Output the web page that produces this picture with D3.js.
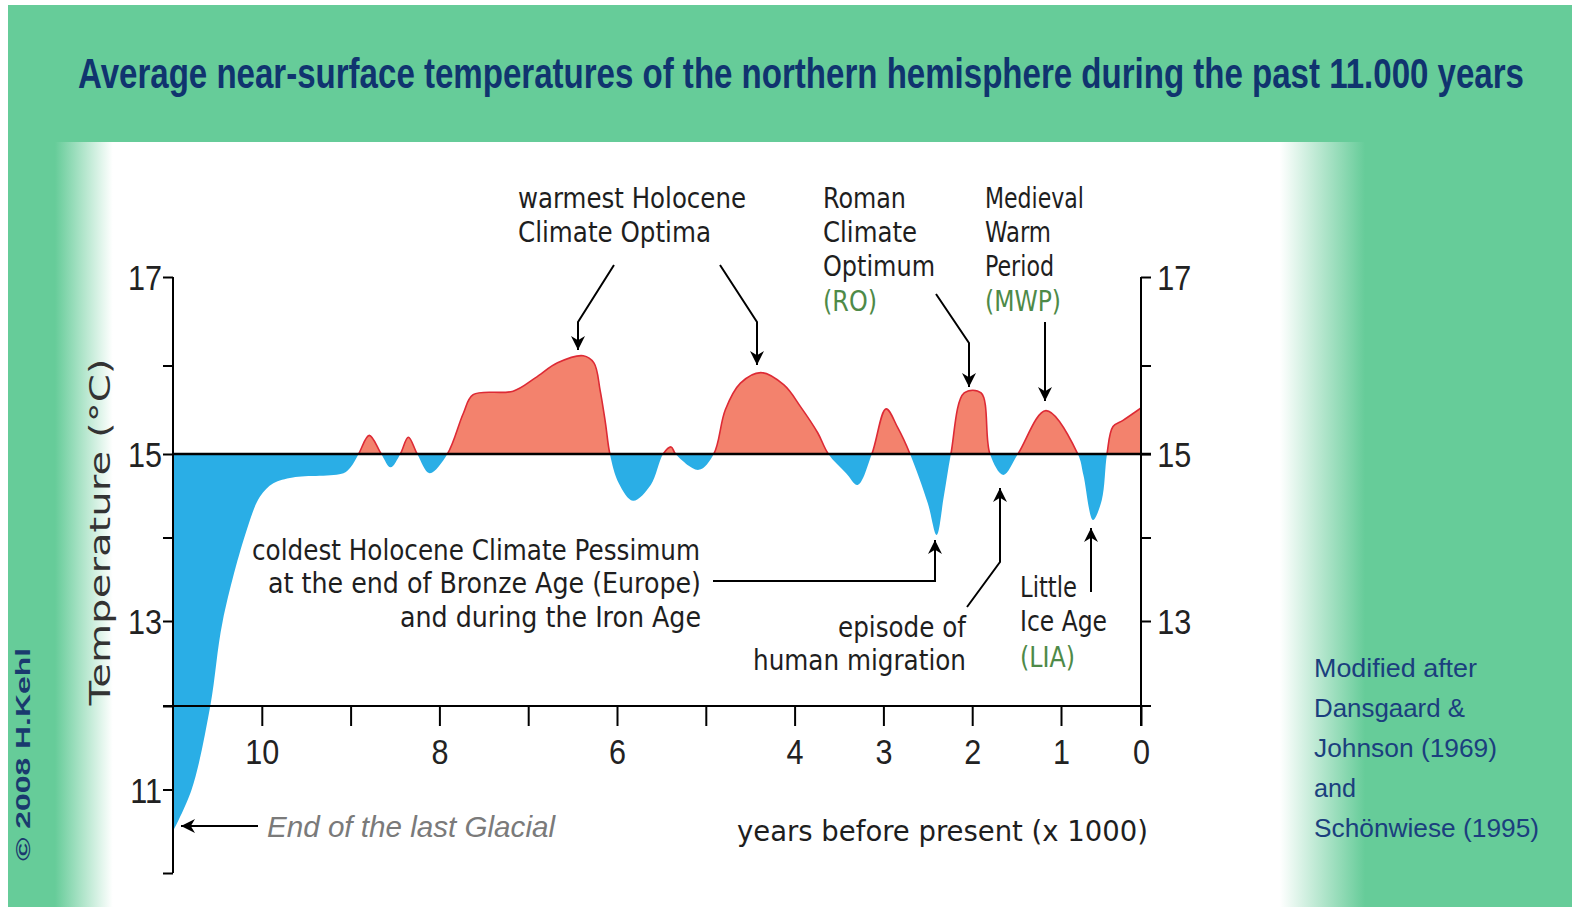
<!DOCTYPE html>
<html>
<head>
<meta charset="utf-8">
<script src="https://cdn.jsdelivr.net/npm/d3@7/dist/d3.min.js"></script>
<style>
  html, body { margin: 0; padding: 0; background: #fff; }
  svg { display: block; }
</style>
</head>
<body>
<div id="chart"></div>
<script>
// years before present (x 1000), oldest first
const yearsBP = [11.0, 10.79, 10.58, 10.44, 10.17, 10.02, 9.87, 9.65, 9.08, 9.0, 8.91, 8.79, 8.655, 8.55, 8.44, 8.35, 8.25, 8.11, 7.91, 7.73, 7.62, 7.17, 6.92, 6.67, 6.38, 6.26, 6.19, 6.13, 6.08, 5.98, 5.82, 5.62, 5.48, 5.39, 5.34, 5.08, 4.91, 4.78, 4.61, 4.38, 4.12, 3.93, 3.74, 3.62, 3.42, 3.29, 3.13, 2.97, 2.84, 2.70, 2.50, 2.40, 2.32, 2.24, 2.09, 1.90, 1.80, 1.65, 1.485, 1.17, 0.79, 0.72, 0.60, 0.49, 0.425, 0.35, 0.225, 0.0];
// average temperature (°C)
const temps = [10.5, 11.0, 12.0, 13.0, 14.09, 14.49, 14.65, 14.72, 14.77, 14.84, 15, 15.21, 15, 14.84, 15, 15.19, 15, 14.77, 15, 15.46, 15.67, 15.71, 15.86, 16.03, 16.11, 16.03, 15.72, 15.35, 15, 14.65, 14.44, 14.63, 15, 15.08, 15, 14.81, 15, 15.50, 15.80, 15.92, 15.78, 15.53, 15.24, 15, 14.77, 14.63, 15, 15.51, 15.30, 15, 14.41, 14.03, 14.49, 15, 15.69, 15.69, 15, 14.75, 15, 15.49, 15, 14.75, 14.21, 14.45, 15, 15.31, 15.38, 15.52];

const xTicks = [10, 9, 8, 7, 6, 5, 4, 3, 2, 1, 0];
const xLabels = [10, 8, 6, 4, 3, 2, 1, 0];
const yTicksLeft = [10, 11, 12, 13, 14, 15, 16, 17];
const yTicksRight = [13, 14, 15, 16, 17];
const yLabels = [11, 13, 15, 17];
const baseTemp = 15;

const title = "Average near-surface temperatures of the northern hemisphere during the past 11.000 years";
const sourceLines = ["Modified after", "Dansgaard &", "Johnson (1969)", "and", "Schönwiese (1995)"];

const W = 1572, H = 913;
const bgGreen = "#66cc99";
const noteGreen = "#4e8a48";
const navy = "#10346f";

const svg = d3.select("#chart").append("svg").attr("width", W).attr("height", H);
const defs = svg.append("defs");

// panel gradient (fades into green at both sides)
const grad = defs.append("linearGradient").attr("id", "panelGrad")
  .attr("x1", "0%").attr("x2", "100%").attr("y1", "0%").attr("y2", "0%");
grad.append("stop").attr("offset", "0%").attr("stop-color", bgGreen);
grad.append("stop").attr("offset", "4.4%").attr("stop-color", "#fff");
grad.append("stop").attr("offset", "93.5%").attr("stop-color", "#fff");
grad.append("stop").attr("offset", "100%").attr("stop-color", bgGreen);

defs.append("marker").attr("id", "arrow")
  .attr("viewBox", "0 0 10 10").attr("refX", 10).attr("refY", 5)
  .attr("markerWidth", 14).attr("markerHeight", 14).attr("markerUnits", "userSpaceOnUse")
  .attr("orient", "auto")
  .append("path").attr("d", "M0,0 L10,5 L0,10 L3,5 Z").attr("fill", "#000");

svg.append("rect").attr("x", 8).attr("y", 5).attr("width", W - 8).attr("height", 902).attr("fill", bgGreen);
svg.append("rect").attr("x", 55).attr("y", 142).attr("width", 1310).attr("height", 765).attr("fill", "url(#panelGrad)");

// scales
const x = d3.scaleLinear().domain([11, 1, 0]).range([173, 1061, 1141]);
const y = d3.scaleLinear().domain([10, 12, 13, 15, 17]).range([873, 706, 621, 454, 277]);

const pts = yearsBP.map((d, i) => ({ yr: d, t: temps[i] }));

defs.append("clipPath").attr("id", "clipWarm").append("rect")
  .attr("x", x(11)).attr("y", 0).attr("width", x(0) - x(11)).attr("height", y(baseTemp));
defs.append("clipPath").attr("id", "clipCold").append("rect")
  .attr("x", x(11)).attr("y", y(baseTemp)).attr("width", x(0) - x(11)).attr("height", H - y(baseTemp));

const curve = d3.curveCatmullRom.alpha(0.5);
const area = d3.area()
  .x(d => x(d.yr)).y0(y(baseTemp)).y1(d => y(d.t))
  .curve(curve);
const line = d3.line().x(d => x(d.yr)).y(d => y(d.t)).curve(curve);

svg.append("path").datum(pts).attr("d", area).attr("fill", "#2aaee6").attr("clip-path", "url(#clipCold)");
svg.append("path").datum(pts).attr("d", area).attr("fill", "#f3826d").attr("clip-path", "url(#clipWarm)");
svg.append("path").datum(pts).attr("d", line).attr("fill", "none")
  .attr("stroke", "#dd2a35").attr("stroke-width", 1.6).attr("clip-path", "url(#clipWarm)");

// axes
const tickFont = "'Liberation Sans', Arial, sans-serif";
function styleAxis(g) {
  g.select(".domain").remove();
  g.selectAll(".tick line").attr("stroke", "#000").attr("stroke-width", 2);
  g.selectAll(".tick text").attr("font-family", tickFont).attr("font-size", 36).attr("fill", "#222");
}

const leftAxis = svg.append("g").attr("transform", `translate(${x(11)},0)`)
  .call(d3.axisLeft(y).tickValues(yTicksLeft).tickSize(10).tickPadding(3)
    .tickFormat(d => yLabels.includes(d) ? d : ""))
  .call(styleAxis);
leftAxis.selectAll(".tick text").attr("transform", "scale(0.85,1)").attr("dy", "0.36em");

const rightAxis = svg.append("g").attr("transform", `translate(${x(0)},0)`)
  .call(d3.axisRight(y).tickValues(yTicksRight).tickSize(10).tickPadding(9)
    .tickFormat(d => yLabels.includes(d) ? d : ""))
  .call(styleAxis);
rightAxis.selectAll(".tick text").attr("transform", "scale(0.85,1)").attr("dy", "0.36em");

const bottomAxis = svg.append("g").attr("transform", `translate(0,${y(12)})`)
  .call(d3.axisBottom(x).tickValues(xTicks).tickSize(20)
    .tickFormat(d => xLabels.includes(d) ? d : ""))
  .call(styleAxis);
bottomAxis.selectAll(".tick text").attr("y", 32).attr("dy", "0.71em").attr("transform", "scale(0.85,1)");

// axis lines
svg.append("line").attr("x1", x(11)).attr("x2", x(11)).attr("y1", y(17)).attr("y2", y(10))
  .attr("stroke", "#000").attr("stroke-width", 2);
svg.append("line").attr("x1", x(0)).attr("x2", x(0)).attr("y1", y(17)).attr("y2", y(12) + 20)
  .attr("stroke", "#000").attr("stroke-width", 2);
svg.append("line").attr("x1", x(11) - 10).attr("x2", x(0) + 10).attr("y1", y(12)).attr("y2", y(12))
  .attr("stroke", "#000").attr("stroke-width", 2);
// 15 °C reference line
svg.append("line").attr("x1", x(11)).attr("x2", x(0) + 10).attr("y1", y(baseTemp)).attr("y2", y(baseTemp))
  .attr("stroke", "#000").attr("stroke-width", 2.5);

// text helper
function addText(o) {
  const t = svg.append("text")
    .attr("x", o.x).attr("y", o.y)
    .attr("font-family", o.family || "'DejaVu Sans Condensed', 'DejaVu Sans', sans-serif")
    .attr("font-size", o.size || 28)
    .attr("font-weight", o.weight || "normal")
    .attr("font-style", o.style || "normal")
    .attr("fill", o.fill || "#1e1e1e")
    .attr("text-anchor", o.anchor || "start")
    .text(o.t);
  if (o.w) t.attr("textLength", o.w).attr("lengthAdjust", "spacingAndGlyphs");
  if (o.rotate) t.attr("transform", `rotate(${o.rotate},${o.x},${o.y})`);
  if (o.stretch) t.attr("x", 0).attr("y", 0).attr("transform", `translate(${o.x},${o.y}) scale(1,${o.stretch})`);
  return t;
}

// title: smaller font stretched vertically (tall, narrow lettering)
addText({ t: title, x: 78, y: 88, w: 1446, size: 30, stretch: 1.4, weight: "bold", family: tickFont, fill: navy });

const notes = [
  { t: "warmest Holocene", x: 518, y: 208, w: 228 },
  { t: "Climate Optima", x: 518, y: 242, w: 193 },
  { t: "Roman", x: 823, y: 208, w: 83 },
  { t: "Climate", x: 823, y: 242, w: 94 },
  { t: "Optimum", x: 823, y: 276, w: 112 },
  { t: "(RO)", x: 823, y: 311, w: 54, fill: noteGreen },
  { t: "Medieval", x: 985, y: 208, w: 99 },
  { t: "Warm", x: 985, y: 242, w: 66 },
  { t: "Period", x: 985, y: 276, w: 69 },
  { t: "(MWP)", x: 985, y: 311, w: 76, fill: noteGreen },
  { t: "coldest Holocene Climate Pessimum", x: 700, y: 560, w: 448, anchor: "end" },
  { t: "at the end of Bronze Age (Europe)", x: 701, y: 593, w: 433, anchor: "end" },
  { t: "and during the Iron Age", x: 701, y: 627, w: 301, anchor: "end" },
  { t: "episode of", x: 966, y: 637, w: 128, anchor: "end" },
  { t: "human migration", x: 966, y: 670, w: 213, anchor: "end" },
  { t: "Little", x: 1020, y: 597, w: 57 },
  { t: "Ice Age", x: 1020, y: 631, w: 87 },
  { t: "(LIA)", x: 1020, y: 667, w: 55, fill: noteGreen },
  { t: "years before present (x 1000)", x: 737, y: 841, w: 411 }
];
notes.forEach(addText);

addText({ t: "End of the last Glacial", x: 267, y: 837, w: 288, size: 30, style: "italic", family: tickFont, fill: "#7a7a7a" });
addText({ t: "Temperature (°C)", x: 110, y: 532, w: 347, size: 28, anchor: "middle", family: "'DejaVu Sans', sans-serif", fill: "#333", rotate: -90 });
addText({ t: "© 2008 H.Kehl", x: 30, y: 861, w: 213, size: 21, weight: "bold", family: tickFont, fill: "#1a3a6e", rotate: -90 });

const srcWidths = [163, 151, 183, 42, 225];
sourceLines.forEach((s, i) => addText({ t: s, x: 1314, y: 677 + i * 40, w: srcWidths[i], size: 25, family: tickFont, fill: "#1b3f7e" }));

// arrows
const arrows = [
  [[614, 265], [578, 322], [578, 350]],
  [[720, 265], [757, 322], [757, 365]],
  [[936, 294], [969, 343], [969, 387]],
  [[1045, 322], [1045, 401]],
  [[713, 581], [935, 581], [935, 540]],
  [[967, 607], [1000, 562], [1000, 488]],
  [[1091, 592], [1091, 528]],
  [[258, 826], [181, 826]]
];
arrows.forEach(a => {
  svg.append("path").attr("d", d3.line()(a)).attr("fill", "none")
    .attr("stroke", "#000").attr("stroke-width", 2).attr("marker-end", "url(#arrow)");
});
</script>
</body>
</html>
